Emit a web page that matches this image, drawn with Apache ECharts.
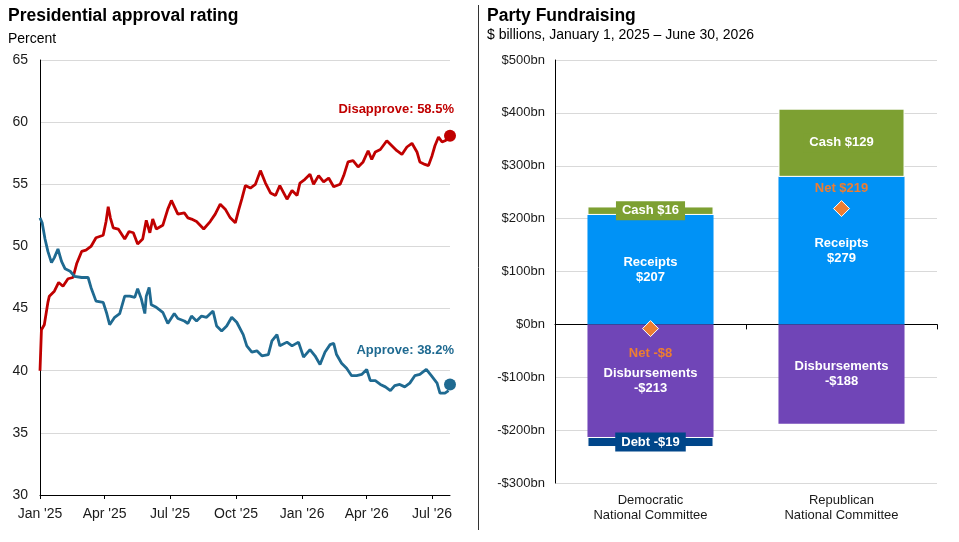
<!DOCTYPE html>
<html>
<head>
<meta charset="utf-8">
<script src="https://cdn.jsdelivr.net/npm/echarts@6/dist/echarts.min.js"></script>
<style>
  html, body { margin: 0; padding: 0; background: #fff; }
  #chart { width: 959px; height: 542px; }
</style>
</head>
<body>
<div id="chart"></div>
<script>
// approval polling average
var disapproveDates = [
  '2025-01-01', '2025-01-03', '2025-01-07', '2025-01-12', '2025-01-14', '2025-01-21', '2025-01-27',
  '2025-02-02', '2025-02-09', '2025-02-16', '2025-02-21', '2025-02-28', '2025-03-06', '2025-03-13',
  '2025-03-20', '2025-03-30', '2025-04-03', '2025-04-06', '2025-04-09', '2025-04-13', '2025-04-20',
  '2025-04-29', '2025-05-05', '2025-05-11', '2025-05-17', '2025-05-24', '2025-05-29', '2025-06-03',
  '2025-06-07', '2025-06-12', '2025-06-21', '2025-06-28', '2025-07-03', '2025-07-12', '2025-07-21',
  '2025-07-26', '2025-07-31', '2025-08-07', '2025-08-17', '2025-08-26', '2025-09-02', '2025-09-09',
  '2025-09-16', '2025-09-23', '2025-09-30', '2025-10-05', '2025-10-09', '2025-10-14', '2025-10-21',
  '2025-10-28', '2025-11-04', '2025-11-11', '2025-11-18', '2025-11-25', '2025-12-01', '2025-12-11',
  '2025-12-18', '2025-12-25', '2025-12-29', '2026-01-05', '2026-01-12', '2026-01-17', '2026-01-24',
  '2026-01-31', '2026-02-07', '2026-02-14', '2026-02-23', '2026-02-28', '2026-03-06', '2026-03-13',
  '2026-03-20', '2026-03-27', '2026-04-03', '2026-04-08', '2026-04-13', '2026-04-20', '2026-04-29',
  '2026-05-06', '2026-05-13', '2026-05-20', '2026-05-27', '2026-06-03', '2026-06-10', '2026-06-14',
  '2026-06-21', '2026-06-26', '2026-07-01', '2026-07-05', '2026-07-10', '2026-07-15', '2026-07-19',
  '2026-07-24'
];
var disapproveValues = [
  40.0, 43.3, 43.7, 45.5, 46.0, 46.4, 47.1,
  46.8, 47.4, 47.5, 48.6, 49.6, 49.7, 50.0,
  50.7, 50.9, 52.0, 53.2, 52.3, 51.5, 51.4,
  50.6, 51.2, 51.1, 50.2, 50.6, 52.1, 51.1,
  52.2, 51.4, 51.7, 53.0, 53.7, 52.6, 52.7,
  52.3, 52.2, 52.0, 51.4, 52.0, 52.6, 53.4,
  53.0, 52.3, 51.9, 53.0, 53.8, 54.9, 54.7,
  55.0, 56.1, 55.1, 54.3, 54.1, 54.9, 53.8,
  54.5, 54.1, 55.1, 55.4, 55.8, 55.0, 55.7,
  55.2, 55.5, 54.8, 55.0, 55.7, 56.8, 56.9,
  56.4, 56.8, 57.7, 57.0, 57.6, 57.8, 58.5,
  58.1, 57.7, 57.4, 58.0, 58.3, 57.6, 56.8,
  56.6, 56.5, 57.3, 58.1, 58.8, 58.4, 58.5,
  58.7
];
var approveDates = [
  '2025-01-01', '2025-01-04', '2025-01-08', '2025-01-12', '2025-01-17', '2025-01-21', '2025-01-26',
  '2025-01-31', '2025-02-05', '2025-02-12', '2025-02-18', '2025-02-28', '2025-03-09', '2025-03-13',
  '2025-03-20', '2025-03-30', '2025-04-04', '2025-04-08', '2025-04-15', '2025-04-22', '2025-04-29',
  '2025-05-06', '2025-05-13', '2025-05-17', '2025-05-22', '2025-05-27', '2025-05-29', '2025-06-02',
  '2025-06-05', '2025-06-12', '2025-06-21', '2025-06-28', '2025-07-07', '2025-07-12', '2025-07-21',
  '2025-07-26', '2025-07-31', '2025-08-07', '2025-08-14', '2025-08-21', '2025-08-30', '2025-09-04',
  '2025-09-11', '2025-09-18', '2025-09-25', '2025-10-02', '2025-10-11', '2025-10-16', '2025-10-23',
  '2025-10-30', '2025-11-06', '2025-11-15', '2025-11-20', '2025-11-27', '2025-12-01', '2025-12-11',
  '2025-12-18', '2025-12-27', '2026-01-03', '2026-01-12', '2026-01-19', '2026-01-26', '2026-02-02',
  '2026-02-09', '2026-02-14', '2026-02-18', '2026-02-25', '2026-03-04', '2026-03-11', '2026-03-18',
  '2026-03-25', '2026-04-01', '2026-04-06', '2026-04-13', '2026-04-20', '2026-04-27', '2026-05-04',
  '2026-05-10', '2026-05-17', '2026-05-24', '2026-05-31', '2026-06-07', '2026-06-14', '2026-06-23',
  '2026-06-30', '2026-07-08', '2026-07-12', '2026-07-19', '2026-07-24'
];
var approveValues = [
  52.3, 51.9, 50.6, 49.6, 48.7, 49.1, 49.8,
  48.8, 48.2, 48.0, 47.6, 47.5, 47.5, 46.7,
  45.6, 45.5, 44.6, 43.7, 44.3, 44.6, 46.0,
  46.0, 45.9, 46.6, 45.8, 44.6, 46.0, 46.7,
  45.3, 45.1, 44.7, 43.8, 44.6, 44.2, 44.0,
  43.8, 44.4, 44.0, 44.4, 44.3, 44.8, 43.6,
  43.2, 43.6, 44.3, 43.9, 42.9, 42.0, 41.5,
  41.6, 41.2, 41.3, 42.4, 42.9, 42.0, 42.3,
  42.0, 42.3, 41.1, 41.7, 41.2, 40.5, 41.5,
  42.1, 42.2, 41.3, 40.6, 40.2, 39.6, 39.6,
  39.7, 40.1, 39.2, 39.2, 38.9, 38.7, 38.4,
  38.8, 38.9, 38.7, 39.0, 39.6, 39.7, 40.1,
  39.6, 39.0, 38.2, 38.2, 38.4
];
var latestDate = '2026-07-26';
var disapproveLatest = 58.9;
var approveLatest = 38.9;
var quarterTicks = ['2025-01-01', '2025-04-01', '2025-07-01', '2025-10-01', '2026-01-01', '2026-04-01', '2026-07-01'];

// party fundraising, $ billions
var committees = ['Democratic\nNational Committee', 'Republican\nNational Committee'];
var receipts = [207, 279];
var cash = [16, 129];
var disbursements = [-213, -188];
var debt = [-19, null];
var net = [-8, 219];

var FONT = '"Liberation Sans", Arial, sans-serif';
var MONTHS = ['Jan', 'Feb', 'Mar', 'Apr', 'May', 'Jun', 'Jul', 'Aug', 'Sep', 'Oct', 'Nov', 'Dec'];

function toTime(s) {
  var p = s.split('-');
  return new Date(+p[0], +p[1] - 1, +p[2]).getTime();
}
function pairs(dates, vals) {
  return dates.map(function (d, i) { return [toTime(d), vals[i]]; });
}
function money(v) {
  return v < 0 ? '-$' + (-v) : '$' + v;
}

var chart = echarts.init(document.getElementById('chart'));

var option = {
  backgroundColor: '#fff',
  animation: false,
  textStyle: { fontFamily: FONT },
  title: [
    {
      text: 'Presidential approval rating', subtext: 'Percent',
      left: 8, top: 7, padding: 0, itemGap: 7,
      textStyle: { fontSize: 17.5, fontWeight: 'bold', color: '#000', fontFamily: FONT },
      subtextStyle: { fontSize: 14, color: '#000', fontFamily: FONT }
    },
    {
      text: 'Party Fundraising', subtext: '$ billions, January 1, 2025 \u2013 June 30, 2026',
      left: 487, top: 7, padding: 0, itemGap: 3,
      textStyle: { fontSize: 17.5, fontWeight: 'bold', color: '#000', fontFamily: FONT },
      subtextStyle: { fontSize: 14, color: '#000', fontFamily: FONT }
    }
  ],
  graphic: [{
    type: 'line',
    shape: { x1: 478.5, y1: 5, x2: 478.5, y2: 530 },
    style: { stroke: '#333', lineWidth: 1 }
  }],
  grid: [
    { left: 40, top: 60, width: 410, height: 435 },
    { left: 555, top: 60, width: 382, height: 423 }
  ],
  xAxis: [
    {
      // timestamps on a value axis so the quarter ticks can be placed exactly
      type: 'value', gridIndex: 0, position: 'bottom',
      min: toTime('2025-01-01'), max: toTime(latestDate),
      axisLine: { lineStyle: { color: '#000', width: 1 } },
      axisTick: { show: true, length: 4, lineStyle: { color: '#000' }, customValues: quarterTicks.map(toTime) },
      axisLabel: {
        customValues: quarterTicks.map(toTime),
        color: '#1a1a1a', fontSize: 14, margin: 12,
        formatter: function (v) {
          var d = new Date(v);
          return MONTHS[d.getMonth()] + " '" + String(d.getFullYear()).slice(2);
        }
      },
      splitLine: { show: false }
    },
    {
      type: 'category', gridIndex: 1, data: committees, position: 'bottom',
      axisLine: { onZero: true, lineStyle: { color: '#000', width: 1 } },
      axisTick: { show: true, length: 5, lineStyle: { color: '#000' } },
      axisLabel: { show: false }
    },
    {
      type: 'category', gridIndex: 1, data: committees, position: 'bottom',
      axisLine: { show: false, onZero: false },
      axisTick: { show: false },
      axisLabel: { color: '#1a1a1a', fontSize: 13, lineHeight: 15, margin: 10 }
    }
  ],
  yAxis: [
    {
      type: 'value', gridIndex: 0, min: 30, max: 65, interval: 5,
      axisLine: { show: true, lineStyle: { color: '#000' } },
      axisTick: { show: false },
      axisLabel: { color: '#1a1a1a', fontSize: 14, margin: 12 },
      splitLine: { lineStyle: { color: '#d9d9d9' } }
    },
    {
      type: 'value', gridIndex: 1, min: -300, max: 500, interval: 100,
      axisLine: { show: true, lineStyle: { color: '#000' } },
      axisTick: { show: false },
      axisLabel: { color: '#1a1a1a', fontSize: 13, margin: 10, formatter: function (v) { return money(v) + 'bn'; } },
      splitLine: { lineStyle: { color: '#d9d9d9' } }
    }
  ],
  series: [
    {
      name: 'Disapprove', type: 'line', xAxisIndex: 0, yAxisIndex: 0,
      data: pairs(disapproveDates, disapproveValues),
      showSymbol: false, lineStyle: { color: '#c00000', width: 2.8 }, itemStyle: { color: '#c00000' }
    },
    {
      name: 'Approve', type: 'line', xAxisIndex: 0, yAxisIndex: 0,
      data: pairs(approveDates, approveValues),
      showSymbol: false, lineStyle: { color: '#1f6a91', width: 2.8 }, itemStyle: { color: '#1f6a91' }
    },
    {
      type: 'scatter', xAxisIndex: 0, yAxisIndex: 0, symbolSize: 12, clip: false,
      data: [[toTime(latestDate), disapproveLatest]],
      itemStyle: { color: '#c00000', opacity: 1 },
      label: {
        show: true, position: 'top', align: 'right', offset: [4, -9],
        formatter: 'Disapprove: 58.5%', color: '#c00000', fontSize: 13, fontWeight: 'bold'
      }
    },
    {
      type: 'scatter', xAxisIndex: 0, yAxisIndex: 0, symbolSize: 12, clip: false,
      data: [[toTime(latestDate), approveLatest]],
      itemStyle: { color: '#1f6a91', opacity: 1 },
      label: {
        show: true, position: 'top', align: 'right', offset: [4, -16],
        formatter: 'Approve: 38.2%', color: '#1f6a91', fontSize: 13, fontWeight: 'bold'
      }
    },
    {
      name: 'Receipts', type: 'bar', xAxisIndex: 1, yAxisIndex: 1, stack: 'funds', barWidth: '66%',
      data: receipts, itemStyle: { color: '#0092f6' },
      label: {
        show: true, position: 'inside', color: '#fff', fontSize: 13, fontWeight: 'bold', lineHeight: 15,
        formatter: function (p) { return 'Receipts\n' + money(p.value); }
      }
    },
    {
      name: 'Cash', type: 'bar', xAxisIndex: 1, yAxisIndex: 1, stack: 'funds',
      data: cash, itemStyle: { color: '#7da032', borderColor: '#fff', borderWidth: 1 },
      label: {
        show: true, position: 'inside', color: '#fff', fontSize: 13, fontWeight: 'bold',
        backgroundColor: '#7da032', padding: [3, 6],
        formatter: function (p) { return 'Cash ' + money(p.value); }
      }
    },
    {
      name: 'Disbursements', type: 'bar', xAxisIndex: 1, yAxisIndex: 1, stack: 'funds',
      data: disbursements, itemStyle: { color: '#7045b7' },
      label: {
        show: true, position: 'inside', color: '#fff', fontSize: 13, fontWeight: 'bold', lineHeight: 15,
        formatter: function (p) { return 'Disbursements\n' + money(p.value); }
      }
    },
    {
      name: 'Debt', type: 'bar', xAxisIndex: 1, yAxisIndex: 1, stack: 'funds',
      data: debt, itemStyle: { color: '#00468a', borderColor: '#fff', borderWidth: 1 },
      label: {
        show: true, position: 'inside', color: '#fff', fontSize: 13, fontWeight: 'bold',
        backgroundColor: '#00468a', padding: [3, 6],
        formatter: function (p) { return 'Debt ' + money(p.value); }
      }
    },
    {
      name: 'Net', type: 'scatter', xAxisIndex: 1, yAxisIndex: 1, symbol: 'diamond', symbolSize: 16, z: 5,
      data: net.map(function (v) {
        return { value: v, label: v < 0 ? { position: 'bottom', distance: 10 } : { position: 'top', distance: 5 } };
      }),
      itemStyle: { color: '#ed7d31', borderColor: '#fff', borderWidth: 1, opacity: 1 },
      label: {
        show: true, color: '#ed7d31', fontSize: 13, fontWeight: 'bold',
        formatter: function (p) { return 'Net ' + money(p.value); }
      }
    }
  ]
};

chart.setOption(option);
window.onresize = chart.resize;
</script>
</body>
</html>
